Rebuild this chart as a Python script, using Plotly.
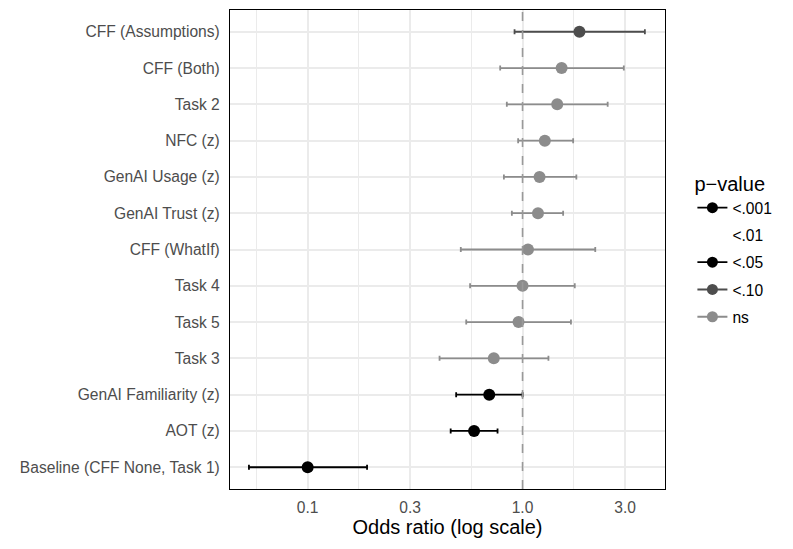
import plotly.graph_objects as go

terms = ["CFF (Assumptions)", "CFF (Both)", "Task 2", "NFC (z)", "GenAI Usage (z)",
         "GenAI Trust (z)", "CFF (WhatIf)", "Task 4", "Task 5", "Task 3",
         "GenAI Familiarity (z)", "AOT (z)", "Baseline (CFF None, Task 1)"]
odds = [1.84, 1.52, 1.45, 1.27, 1.20, 1.18, 1.06, 1.00, 0.958, 0.735, 0.70, 0.595, 0.100]
ci_low = [0.918, 0.787, 0.845, 0.954, 0.819, 0.892, 0.516, 0.570, 0.547, 0.411, 0.491, 0.463, 0.0533]
ci_high = [3.71, 2.96, 2.49, 1.72, 1.78, 1.545, 2.18, 1.75, 1.68, 1.32, 1.00, 0.765, 0.189]
pcat = ["<.10", "ns", "ns", "ns", "ns", "ns", "ns", "ns", "ns", "ns", "<.05", "<.001", "<.001"]

levels = ["<.001", "<.01", "<.05", "<.10", "ns"]
colors = {"<.001": "#000000", "<.01": "rgba(0,0,0,0)", "<.05": "#000000",
          "<.10": "#4D4D4D", "ns": "#8C8C8C"}
xticks = [0.1, 0.3, 1.0, 3.0]
xticktext = ["0.1", "0.3", "1.0", "3.0"]
minor_ticks = [0.0577, 0.1732, 0.5774, 1.732]

FONT = "Liberation Sans, Arial, sans-serif"
fig = go.Figure()

# reference line at OR = 1
fig.add_trace(go.Scatter(x=[1, 1], y=[0, 1], yaxis="y2", mode="lines",
                         line=dict(color="#999999", width=1.6, dash="dash"),
                         showlegend=False, hoverinfo="skip"))

for lv in levels:
    idx = [i for i, p in enumerate(pcat) if p == lv]
    col = colors[lv]
    if idx:
        fig.add_trace(go.Scatter(
            x=[odds[i] for i in idx], y=[terms[i] for i in idx], mode="markers",
            marker=dict(color=col, size=12),
            error_x=dict(type="data", symmetric=False,
                         array=[ci_high[i] - odds[i] for i in idx],
                         arrayminus=[odds[i] - ci_low[i] for i in idx],
                         color=col, thickness=1.8, width=2.5),
            showlegend=False, legendgroup=lv))
    fig.add_trace(go.Scatter(x=[None], y=[None], mode="lines+markers", name=lv,
                             legendgroup=lv,
                             marker=dict(color=col, size=11),
                             line=dict(color=col, width=1.8)))

fig.update_layout(
    width=785, height=541,
    margin=dict(l=222, r=128, t=2, b=60),
    plot_bgcolor="white", paper_bgcolor="white",
    font=dict(family=FONT, size=15.6, color="#000000"),
    xaxis=dict(type="log", range=[-1.3614, 0.663],
               tickvals=xticks, ticktext=xticktext,
               tickfont=dict(color="#4D4D4D", size=15.6),
               showgrid=True, gridcolor="#EBEBEB", gridwidth=1.8,
               minor=dict(tickvals=minor_ticks, showgrid=True, gridcolor="#EBEBEB", gridwidth=1.0),
               zeroline=False, showline=True, linecolor="black", linewidth=1.2, mirror=True,
               ticks="", ticklabelstandoff=4,
               title=dict(text="Odds ratio (log scale)", font=dict(size=20, color="#000000"), standoff=2)),
    yaxis=dict(type="category", categoryorder="array", categoryarray=terms[::-1],
               range=[-0.6, 12.6],
               tickfont=dict(color="#4D4D4D", size=15.6),
               showgrid=True, gridcolor="#EBEBEB", gridwidth=1.8,
               zeroline=False, showline=True, linecolor="black", linewidth=1.2, mirror=True,
               ticks="", ticklabelstandoff=6),
    yaxis2=dict(overlaying="y", range=[0, 1], visible=False),
    legend=dict(x=1.063, xanchor="left", y=0.5, yanchor="middle",
                traceorder="grouped", tracegroupgap=4,
                title=dict(text="p\u2212value", font=dict(size=20)),
                font=dict(size=15.6), itemwidth=30, bgcolor="rgba(0,0,0,0)"),
)

fig.write_html("out.html")
